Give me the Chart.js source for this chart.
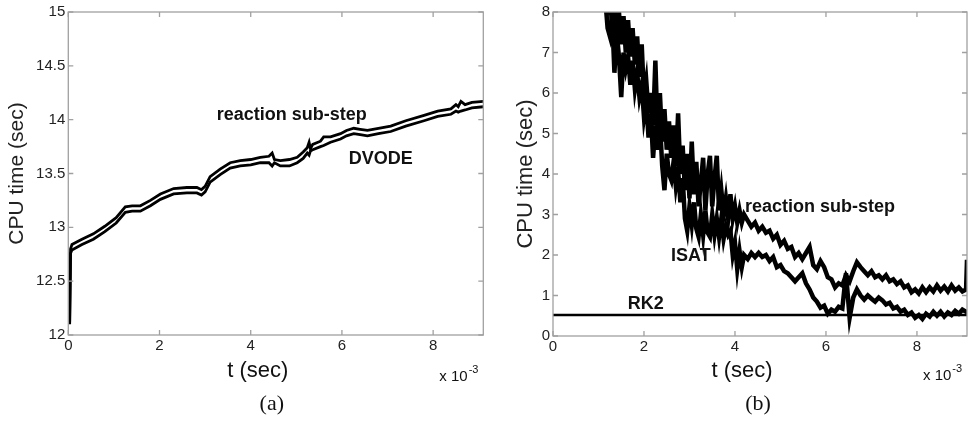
<!DOCTYPE html>
<html>
<head>
<meta charset="utf-8">
<script src="https://cdn.jsdelivr.net/npm/chart.js@4.4.1/dist/chart.umd.min.js"></script>
<style>
  html, body { margin: 0; padding: 0; background: #fff; }
  #wrap { position: relative; width: 972px; height: 421px; }
  canvas { position: absolute; top: 0; }
  #chartA { left: 0; }
  #chartB { left: 490px; }
</style>
</head>
<body>
<div id="wrap">
  <canvas id="chartA" width="490" height="421"></canvas>
  <canvas id="chartB" width="482" height="421"></canvas>
</div>
<script>
// ---- data (a): DVODE, t in units of 1e-3 s
const tA = [0.03, 0.05, 0.08, 0.3, 0.55, 0.8, 1.05, 1.25, 1.4, 1.58, 1.8, 2.02, 2.31, 2.6, 2.82, 2.92, 3.0, 3.11, 3.33, 3.55,
  3.77, 4.0, 4.21, 4.4, 4.47, 4.52, 4.65, 4.85, 5.02, 5.15, 5.24, 5.28, 5.31, 5.36, 5.53, 5.6, 5.75, 5.97, 6.1, 6.26,
  6.4, 6.56, 6.8, 7.07, 7.4, 7.8, 8.1, 8.39, 8.5, 8.55, 8.61, 8.7, 8.85, 9.1];
const reactionA = [12.12, 12.8, 12.84, 12.89, 12.94, 13.01, 13.09, 13.19, 13.2, 13.2, 13.25, 13.31, 13.36, 13.37, 13.37, 13.35, 13.38, 13.47, 13.54, 13.6,
  13.62, 13.63, 13.65, 13.66, 13.69, 13.63, 13.62, 13.63, 13.65, 13.7, 13.74, 13.79, 13.73, 13.77, 13.8, 13.84, 13.84, 13.87, 13.9, 13.92,
  13.91, 13.9, 13.92, 13.94, 13.99, 14.04, 14.08, 14.1, 14.14, 14.12, 14.17, 14.14, 14.16, 14.17];
const dvodeA = [12.1, 12.76, 12.79, 12.84, 12.89, 12.96, 13.04, 13.14, 13.15, 13.15, 13.2, 13.26, 13.31, 13.32, 13.32, 13.3, 13.33, 13.42, 13.49, 13.55,
  13.57, 13.58, 13.6, 13.6, 13.57, 13.6, 13.57, 13.57, 13.6, 13.64, 13.69, 13.67, 13.71, 13.72, 13.75, 13.76, 13.79, 13.82, 13.85, 13.87,
  13.86, 13.85, 13.87, 13.89, 13.94, 13.99, 14.03, 14.05, 14.08, 14.07, 14.08, 14.09, 14.11, 14.12];
const yTicksA = [12, 12.5, 13, 13.5, 14, 14.5, 15];

// ---- data (b): ISAT vs RK2
const tB = [1.15, 1.2, 1.25, 1.3, 1.35, 1.4, 1.45, 1.5, 1.55, 1.6, 1.65, 1.7, 1.75, 1.8, 1.85, 1.9, 1.95, 2.0, 2.05, 2.1,
  2.15, 2.2, 2.25, 2.3, 2.35, 2.4, 2.45, 2.5, 2.55, 2.6, 2.65, 2.7, 2.75, 2.8, 2.85, 2.9, 2.95, 3.0, 3.05, 3.1,
  3.15, 3.2, 3.25, 3.3, 3.35, 3.4, 3.45, 3.5, 3.55, 3.6, 3.65, 3.7, 3.75, 3.8, 3.85, 3.9, 3.95, 4.0, 4.05, 4.1,
  4.15, 4.2,
  4.28, 4.36, 4.44, 4.52, 4.6, 4.68, 4.76, 4.84, 4.92, 5.0, 5.08, 5.16, 5.24, 5.32, 5.4, 5.48, 5.56, 5.64, 5.72, 5.8,
  5.88, 5.96, 6.04, 6.12, 6.2, 6.28, 6.36, 6.44, 6.52, 6.6, 6.68, 6.76, 6.84, 6.92, 7.0, 7.08, 7.16, 7.24, 7.32, 7.4,
  7.48, 7.56, 7.64, 7.72, 7.8, 7.88, 7.96, 8.04, 8.12, 8.2, 8.28, 8.36, 8.44, 8.52, 8.6, 8.68, 8.76, 8.84, 8.92, 9.0,
  9.08, 9.1];
const reactionB = [8.6, 8.1, 8.5, 7.6, 8.2, 7.4, 8.0, 7.2, 7.9, 7.0, 7.8, 6.9, 7.6, 6.7, 7.4, 6.4, 7.2, 5.9, 6.3, 5.5,
  6.0, 5.2, 6.8, 5.0, 6.0, 4.8, 5.6, 4.6, 5.3, 4.4, 5.2, 4.2, 5.5, 4.0, 4.7, 3.6, 4.5, 3.4, 4.8, 3.5,
  4.3, 3.2, 3.8, 4.4, 3.1, 4.0, 4.45, 3.2, 3.9, 4.45, 3.1, 3.6, 3.0, 3.4, 2.9, 3.5, 2.9, 3.2, 2.8, 3.1,
  2.8, 3.0,
  2.85, 2.7, 2.8, 2.6, 2.7, 2.55, 2.6, 2.4, 2.5, 2.25, 2.35, 2.15, 2.2, 1.95, 2.05, 1.9, 2.05, 2.2, 1.75, 1.65,
  1.85, 1.7, 1.45, 1.4, 1.2, 1.3, 1.25, 1.5, 1.35, 1.6, 1.82, 1.7, 1.6, 1.5, 1.6, 1.45, 1.5, 1.4, 1.5, 1.35,
  1.4, 1.28, 1.35, 1.2, 1.25, 1.08, 1.15, 1.05, 1.2, 1.08, 1.2, 1.1, 1.25, 1.12, 1.22, 1.1, 1.25, 1.12, 1.2, 1.1,
  1.15, 1.88];
const isatB = [8.3, 7.6, 7.4, 7.9, 6.5, 7.5, 6.9, 5.9, 7.0, 6.6, 6.9, 6.2, 6.8, 6.1, 6.5, 5.9, 6.2, 5.4, 5.8, 4.9,
  5.5, 4.4, 5.2, 4.6, 5.3, 4.2, 3.6, 4.5, 4.0, 3.85, 4.3, 3.7, 4.1, 3.3, 3.9, 2.9, 2.6, 3.2, 2.75, 3.3,
  2.65, 2.45, 3.0, 2.5, 3.1, 2.55, 2.45, 3.0, 2.5, 2.9, 2.45, 2.9, 2.4, 2.7, 2.5, 2.6, 2.0, 2.3, 1.65, 2.1,
  1.7, 2.0,
  1.9, 2.05, 1.95, 2.05, 1.95, 2.0, 1.85, 1.95, 1.7, 1.75, 1.6, 1.55, 1.45, 1.35, 1.45, 1.55, 1.3, 1.15, 0.95, 0.85,
  0.7, 0.75, 0.55, 0.65, 0.6, 0.72, 0.68, 1.55, 0.45, 0.95, 1.15, 1.0, 0.9, 1.0, 0.92, 0.85, 0.95, 0.88, 0.78, 0.82,
  0.68, 0.72, 0.6, 0.65, 0.52, 0.58, 0.45, 0.52, 0.42, 0.55, 0.48, 0.6, 0.5, 0.6, 0.48, 0.58, 0.52, 0.62, 0.55, 0.65,
  0.6, 0.65];
const tRK2 = [0, 9.1];
const rk2B = [0.52, 0.52];
const yTicksB = [0, 1, 2, 3, 4, 5, 6, 7, 8];

const xTicks = [0, 2, 4, 6, 8];

Chart.defaults.font.family = '"Liberation Sans", Arial, Helvetica, sans-serif';

const pts = (xs, ys) => xs.map((x, i) => ({ x: x, y: ys[i] }));

// frame, inward ticks, annotations, x label, exponent and caption
const deco = {
  id: 'deco',
  afterDatasetsDraw(chart, args, o) {
    const { ctx, chartArea: a, scales: { x, y } } = chart;
    ctx.save();
    ctx.strokeStyle = '#a0a0a0';
    ctx.lineWidth = 1.3;
    ctx.strokeRect(a.left, a.top, a.right - a.left, a.bottom - a.top);
    ctx.beginPath();
    x.ticks.forEach(t => {
      const p = x.getPixelForValue(t.value);
      ctx.moveTo(p, a.bottom); ctx.lineTo(p, a.bottom - 5);
      ctx.moveTo(p, a.top); ctx.lineTo(p, a.top + 5);
    });
    y.ticks.forEach(t => {
      const p = y.getPixelForValue(t.value);
      ctx.moveTo(a.left, p); ctx.lineTo(a.left + 5, p);
      ctx.moveTo(a.right, p); ctx.lineTo(a.right - 5, p);
    });
    ctx.stroke();

    ctx.fillStyle = '#111';
    ctx.textAlign = 'center';
    ctx.textBaseline = 'middle';
    ctx.font = 'bold 18px "Liberation Sans", Arial, sans-serif';
    o.notes.forEach(n => ctx.fillText(n.text, x.getPixelForValue(n.x), y.getPixelForValue(n.y)));

    const cx = (a.left + a.right) / 2;
    ctx.font = '22px "Liberation Sans", Arial, sans-serif';
    ctx.fillText('t (sec)', cx + o.titleDx, a.bottom + o.titleDy);

    ctx.textAlign = 'left';
    ctx.textBaseline = 'alphabetic';
    ctx.font = '15px "Liberation Sans", Arial, sans-serif';
    const mx = a.right - 44, my = a.bottom + o.multDy;
    ctx.fillText('x 10', mx, my);
    const w = ctx.measureText('x 10').width;
    ctx.font = '11px "Liberation Sans", Arial, sans-serif';
    ctx.fillText('-3', mx + w + 1, my - 8);

    ctx.textAlign = 'center';
    ctx.textBaseline = 'middle';
    ctx.font = '22px "Liberation Serif", "Times New Roman", serif';
    ctx.fillText(o.caption, cx + o.capDx, a.bottom + o.capDy);
    ctx.restore();
  }
};

function makeOptions(c) {
  const tickFont = { size: 15 };
  return {
    responsive: false,
    animation: false,
    events: [],
    layout: { padding: { top: c.top, right: c.right, left: 0, bottom: 0 } },
    plugins: { legend: { display: false }, tooltip: { enabled: false }, deco: c.deco },
    scales: {
      x: {
        type: 'linear', min: 0, max: 9.1,
        afterBuildTicks: s => { s.ticks = xTicks.map(v => ({ value: v })); },
        afterFit: s => { s.height = c.xHeight; },
        grid: { display: false, drawTicks: false },
        border: { display: false },
        ticks: { font: tickFont, color: '#222', padding: 2, maxRotation: 0, callback: v => String(v) }
      },
      y: {
        type: 'linear', min: c.yMin, max: c.yMax,
        afterBuildTicks: s => { s.ticks = c.yTicks.map(v => ({ value: v })); },
        afterFit: s => { s.width = c.yWidth; },
        grid: { display: false, drawTicks: false },
        border: { display: false },
        ticks: { font: tickFont, color: '#222', padding: 3, callback: v => String(v) },
        title: { display: true, text: 'CPU time (sec)', color: '#222', font: { size: c.yTitleSize }, padding: { top: c.yTitlePad, bottom: 0 } }
      }
    }
  };
}

const lineStyle = w => ({ borderColor: '#000', borderWidth: w, pointRadius: 0, tension: 0, fill: false, clip: 0 });

new Chart(document.getElementById('chartA'), {
  type: 'line',
  data: {
    datasets: [
      { label: 'reaction sub-step', data: pts(tA, reactionA), ...lineStyle(2.8) },
      { label: 'DVODE', data: pts(tA, dvodeA), ...lineStyle(2.8) }
    ]
  },
  options: makeOptions({
    top: 11, right: 6.7, xHeight: 86, yWidth: 68.3, yMin: 12, yMax: 15, yTicks: yTicksA,
    yTitleSize: 21, yTitlePad: 4.4,
    deco: {
      notes: [{ text: 'reaction sub-step', x: 4.9, y: 14.04 }, { text: 'DVODE', x: 6.85, y: 13.63 }],
      titleDx: -18, titleDy: 36, multDy: 46, caption: '(a)', capDx: -4, capDy: 69
    }
  }),
  plugins: [deco]
});

new Chart(document.getElementById('chartB'), {
  type: 'line',
  data: {
    datasets: [
      { label: 'RK2', data: pts(tRK2, rk2B), ...lineStyle(2.4) },
      { label: 'reaction sub-step', data: pts(tB, reactionB), ...lineStyle(4.5) },
      { label: 'ISAT', data: pts(tB, isatB), ...lineStyle(4.5) }
    ]
  },
  options: makeOptions({
    top: 12, right: 5, xHeight: 85, yWidth: 63, yMin: 0, yMax: 8, yTicks: yTicksB,
    yTitleSize: 22, yTitlePad: 23,
    deco: {
      notes: [{ text: 'reaction sub-step', x: 5.87, y: 3.19 }, { text: 'ISAT', x: 3.03, y: 1.98 }, { text: 'RK2', x: 2.04, y: 0.79 }],
      titleDx: -18, titleDy: 35, multDy: 44, caption: '(b)', capDx: -2, capDy: 68
    }
  }),
  plugins: [deco]
});
</script>
</body>
</html>
